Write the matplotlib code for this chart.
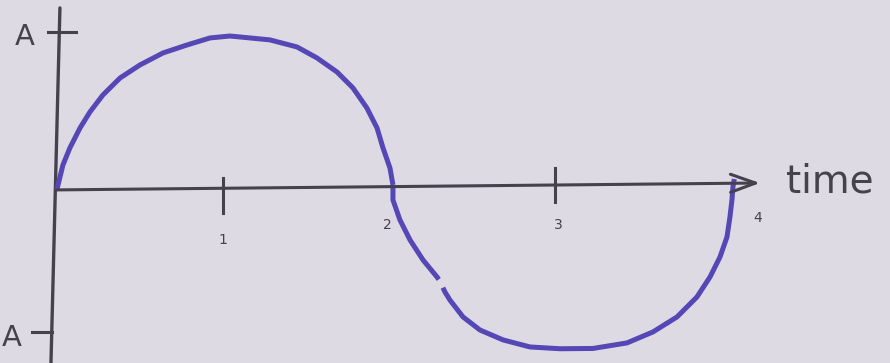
import matplotlib.pyplot as plt

# one full cycle of the wave: time in seconds, displacement in units of A
t_upper = [0.0, 0.036, 0.078, 0.139, 0.199, 0.277, 0.38, 0.5, 0.639, 0.783, 0.922,
           1.042, 1.163, 1.283, 1.446, 1.566, 1.687, 1.783, 1.867, 1.928, 1.964, 2.006, 2.024]
y_upper = [-0.01, 0.153, 0.267, 0.40, 0.507, 0.62, 0.733, 0.82, 0.90, 0.953, 1.0,
           1.013, 1.0, 0.987, 0.94, 0.867, 0.773, 0.667, 0.533, 0.40, 0.267, 0.133, 0.02]

# the pen skipped once on the way down, so the trough is two strokes
t_lower_a = [2.024, 2.024, 2.066, 2.127, 2.205, 2.289, 2.30]
y_lower_a = [0.02, -0.08, -0.213, -0.347, -0.48, -0.593, -0.61]
t_lower_b = [2.325, 2.337, 2.367, 2.446, 2.548, 2.687, 2.849, 3.03, 3.229, 3.434, 3.59,
             3.735, 3.855, 3.934, 3.994, 4.036, 4.054, 4.066, 4.072, 4.08]
y_lower_b = [-0.665, -0.693, -0.747, -0.86, -0.947, -1.013, -1.06, -1.072, -1.07, -1.033, -0.96,
             -0.86, -0.727, -0.593, -0.46, -0.327, -0.193, -0.08, 0.007, 0.06]

ticks = [1, 2, 3, 4]
tick_labels = ["1", "2", "3", "4"]

bg = "#dddae4"
ink = "#45414d"
wave = "#5547b5"

fig = plt.figure(figsize=(8.9, 3.63), dpi=100, facecolor=bg)
ax = fig.add_axes([0, 0, 1, 1])
ax.set_facecolor(bg)
ax.set_xlim(-0.343, 5.018)
ax.set_ylim(-1.167, 1.253)
ax.axis("off")

# time axis with an open arrow head, slightly rising to the right
ax.annotate("", xy=(4.235, 0.033), xytext=(0.0, -0.013),
            arrowprops=dict(arrowstyle="->,head_length=1.8,head_width=0.65",
                            color=ink, lw=2.2, shrinkA=0, shrinkB=0))
# displacement axis, leaning a little
ax.plot([0.018, -0.036], [1.2, -1.167], color=ink, lw=2.4, solid_capstyle="round")
ax.plot([-0.054, 0.114], [1.04, 1.04], color=ink, lw=2.2)
ax.plot([-0.15, -0.03], [-0.96, -0.96], color=ink, lw=2.2)

# tick marks on the time axis
ax.plot([ticks[0], ticks[0]], [0.067, -0.167], color=ink, lw=2.2)
ax.plot([ticks[2], ticks[2]], [0.133, -0.093], color=ink, lw=2.2)

label_y = [-0.347, -0.247, -0.247, -0.2]
label_dx = [0.0, -0.01, 0.02, 0.22]
for tk, lab, ly, dx in zip(ticks, tick_labels, label_y, label_dx):
    ax.text(tk + dx, ly, lab, color=ink, fontsize=10, ha="center", va="center")

for tt, yy in [(t_upper, y_upper), (t_lower_a, y_lower_a), (t_lower_b, y_lower_b)]:
    ax.plot(tt, yy, color=wave, lw=3.6, solid_capstyle="butt", solid_joinstyle="round")

ax.text(4.39, -0.033, "time", color=ink, fontsize=28, ha="left", va="baseline")
ax.text(-0.193, 1.007, "A", color=ink, fontsize=21, ha="center", va="center")
ax.text(-0.27, -1.0, "A", color=ink, fontsize=21, ha="center", va="center")

fig.savefig("out.png", dpi=100, facecolor=bg)
